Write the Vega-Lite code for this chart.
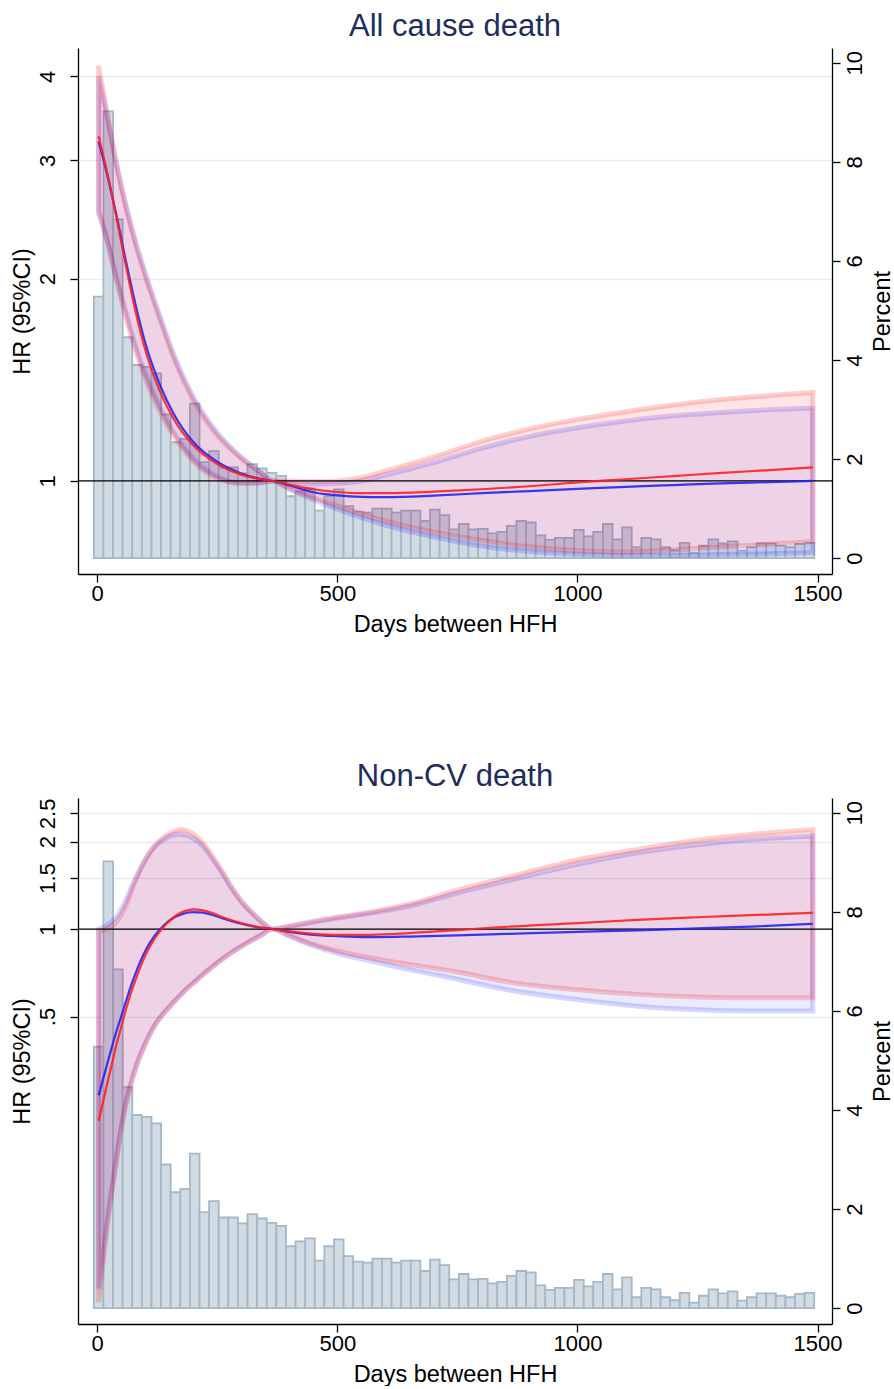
{
  "$schema": "https://vega.github.io/schema/vega-lite/v6.json",
  "background": "white",
  "padding": {"left": 10, "top": 11, "right": 0, "bottom": 0},
  "config": {
    "view": {"stroke": null},
    "font": "Liberation Sans",
    "axis": {
      "domainColor": "black", "domainWidth": 1.3,
      "tickColor": "black", "tickWidth": 1.3, "tickSize": 8,
      "labelFont": "Liberation Sans", "labelFontSize": 22, "labelColor": "black",
      "titleFont": "Liberation Sans", "titleFontSize": 23.5, "titleFontWeight": "normal", "titleColor": "black",
      "labelOverlap": false, "labelFlush": false
    }
  },
  "spacing": 125,
  "datasets": {
    "hist": [
      {"x0": -7, "x1": 13, "pct": 5.28}, {"x0": 13, "x1": 33, "pct": 9.02}, {"x0": 33, "x1": 53, "pct": 6.84},
      {"x0": 53, "x1": 73, "pct": 4.46}, {"x0": 73, "x1": 93, "pct": 3.90}, {"x0": 93, "x1": 113, "pct": 3.86},
      {"x0": 113, "x1": 133, "pct": 3.73}, {"x0": 133, "x1": 153, "pct": 2.90}, {"x0": 153, "x1": 173, "pct": 2.34},
      {"x0": 173, "x1": 193, "pct": 2.41}, {"x0": 193, "x1": 213, "pct": 3.12}, {"x0": 213, "x1": 233, "pct": 1.94},
      {"x0": 233, "x1": 253, "pct": 2.16}, {"x0": 253, "x1": 273, "pct": 1.83}, {"x0": 273, "x1": 293, "pct": 1.83},
      {"x0": 293, "x1": 313, "pct": 1.71}, {"x0": 313, "x1": 333, "pct": 1.90}, {"x0": 333, "x1": 353, "pct": 1.81},
      {"x0": 353, "x1": 373, "pct": 1.72}, {"x0": 373, "x1": 393, "pct": 1.66}, {"x0": 393, "x1": 413, "pct": 1.25},
      {"x0": 413, "x1": 433, "pct": 1.35}, {"x0": 433, "x1": 453, "pct": 1.41}, {"x0": 453, "x1": 473, "pct": 0.96},
      {"x0": 473, "x1": 493, "pct": 1.25}, {"x0": 493, "x1": 513, "pct": 1.39}, {"x0": 513, "x1": 533, "pct": 1.05},
      {"x0": 533, "x1": 553, "pct": 0.94}, {"x0": 553, "x1": 573, "pct": 0.92}, {"x0": 573, "x1": 593, "pct": 1.00},
      {"x0": 593, "x1": 613, "pct": 1.00}, {"x0": 613, "x1": 633, "pct": 0.92}, {"x0": 633, "x1": 653, "pct": 0.96},
      {"x0": 653, "x1": 673, "pct": 0.96}, {"x0": 673, "x1": 693, "pct": 0.75}, {"x0": 693, "x1": 713, "pct": 0.98},
      {"x0": 713, "x1": 733, "pct": 0.87}, {"x0": 733, "x1": 753, "pct": 0.58}, {"x0": 753, "x1": 773, "pct": 0.69},
      {"x0": 773, "x1": 793, "pct": 0.58}, {"x0": 793, "x1": 813, "pct": 0.59}, {"x0": 813, "x1": 833, "pct": 0.50},
      {"x0": 833, "x1": 853, "pct": 0.53}, {"x0": 853, "x1": 873, "pct": 0.65}, {"x0": 873, "x1": 893, "pct": 0.75},
      {"x0": 893, "x1": 913, "pct": 0.72}, {"x0": 913, "x1": 933, "pct": 0.46}, {"x0": 933, "x1": 953, "pct": 0.37},
      {"x0": 953, "x1": 973, "pct": 0.41}, {"x0": 973, "x1": 993, "pct": 0.41}, {"x0": 993, "x1": 1013, "pct": 0.57},
      {"x0": 1013, "x1": 1033, "pct": 0.44}, {"x0": 1033, "x1": 1053, "pct": 0.53}, {"x0": 1053, "x1": 1073, "pct": 0.69},
      {"x0": 1073, "x1": 1093, "pct": 0.38}, {"x0": 1093, "x1": 1113, "pct": 0.62}, {"x0": 1113, "x1": 1133, "pct": 0.22},
      {"x0": 1133, "x1": 1153, "pct": 0.41}, {"x0": 1153, "x1": 1173, "pct": 0.38}, {"x0": 1173, "x1": 1193, "pct": 0.22},
      {"x0": 1193, "x1": 1213, "pct": 0.16}, {"x0": 1213, "x1": 1233, "pct": 0.31}, {"x0": 1233, "x1": 1253, "pct": 0.11},
      {"x0": 1253, "x1": 1273, "pct": 0.25}, {"x0": 1273, "x1": 1293, "pct": 0.38}, {"x0": 1293, "x1": 1313, "pct": 0.30},
      {"x0": 1313, "x1": 1333, "pct": 0.34}, {"x0": 1333, "x1": 1353, "pct": 0.15}, {"x0": 1353, "x1": 1373, "pct": 0.22},
      {"x0": 1373, "x1": 1393, "pct": 0.30}, {"x0": 1393, "x1": 1413, "pct": 0.30}, {"x0": 1413, "x1": 1433, "pct": 0.25},
      {"x0": 1433, "x1": 1453, "pct": 0.22}, {"x0": 1453, "x1": 1473, "pct": 0.29}, {"x0": 1473, "x1": 1493, "pct": 0.31}
    ],
    "allcause": [
      {"model": "m2", "day": 3, "hr": 3.20, "lo": 2.50, "hi": 4.00},
      {"model": "m2", "day": 20, "hr": 2.872, "lo": 2.29, "hi": 3.50},
      {"model": "m2", "day": 40, "hr": 2.489, "lo": 2.01, "hi": 2.96},
      {"model": "m2", "day": 60, "hr": 2.121, "lo": 1.78, "hi": 2.57},
      {"model": "m2", "day": 80, "hr": 1.828, "lo": 1.59, "hi": 2.27},
      {"model": "m2", "day": 100, "hr": 1.606, "lo": 1.445, "hi": 2.04},
      {"model": "m2", "day": 130, "hr": 1.394, "lo": 1.29, "hi": 1.765},
      {"model": "m2", "day": 160, "hr": 1.256, "lo": 1.18, "hi": 1.54},
      {"model": "m2", "day": 200, "hr": 1.143, "lo": 1.08, "hi": 1.335},
      {"model": "m2", "day": 250, "hr": 1.068, "lo": 1.015, "hi": 1.18},
      {"model": "m2", "day": 300, "hr": 1.026, "lo": 0.993, "hi": 1.085},
      {"model": "m2", "day": 340, "hr": 1.007, "lo": 0.994, "hi": 1.03},
      {"model": "m2", "day": 365, "hr": 1.0, "lo": 1.0, "hi": 1.0},
      {"model": "m2", "day": 400, "hr": 0.985, "lo": 0.972, "hi": 0.995},
      {"model": "m2", "day": 450, "hr": 0.962, "lo": 0.938, "hi": 0.99},
      {"model": "m2", "day": 500, "hr": 0.952, "lo": 0.908, "hi": 0.992},
      {"model": "m2", "day": 550, "hr": 0.947, "lo": 0.882, "hi": 1.0},
      {"model": "m2", "day": 600, "hr": 0.946, "lo": 0.86, "hi": 1.02},
      {"model": "m2", "day": 700, "hr": 0.951, "lo": 0.826, "hi": 1.065},
      {"model": "m2", "day": 800, "hr": 0.959, "lo": 0.80, "hi": 1.118},
      {"model": "m2", "day": 900, "hr": 0.966, "lo": 0.785, "hi": 1.165},
      {"model": "m2", "day": 1000, "hr": 0.973, "lo": 0.778, "hi": 1.20},
      {"model": "m2", "day": 1100, "hr": 0.98, "lo": 0.775, "hi": 1.228},
      {"model": "m2", "day": 1200, "hr": 0.986, "lo": 0.775, "hi": 1.25},
      {"model": "m2", "day": 1300, "hr": 0.992, "lo": 0.777, "hi": 1.265},
      {"model": "m2", "day": 1400, "hr": 0.996, "lo": 0.779, "hi": 1.277},
      {"model": "m2", "day": 1490, "hr": 1.0, "lo": 0.782, "hi": 1.283},
      {"model": "m1", "day": 3, "hr": 3.26, "lo": 2.53, "hi": 4.15},
      {"model": "m1", "day": 20, "hr": 2.89, "lo": 2.29, "hi": 3.55},
      {"model": "m1", "day": 40, "hr": 2.47, "lo": 1.99, "hi": 2.96},
      {"model": "m1", "day": 60, "hr": 2.085, "lo": 1.75, "hi": 2.55},
      {"model": "m1", "day": 80, "hr": 1.786, "lo": 1.56, "hi": 2.25},
      {"model": "m1", "day": 100, "hr": 1.568, "lo": 1.42, "hi": 2.02},
      {"model": "m1", "day": 130, "hr": 1.363, "lo": 1.27, "hi": 1.745},
      {"model": "m1", "day": 160, "hr": 1.234, "lo": 1.165, "hi": 1.52},
      {"model": "m1", "day": 200, "hr": 1.130, "lo": 1.07, "hi": 1.32},
      {"model": "m1", "day": 250, "hr": 1.060, "lo": 1.008, "hi": 1.17},
      {"model": "m1", "day": 300, "hr": 1.022, "lo": 0.992, "hi": 1.08},
      {"model": "m1", "day": 340, "hr": 1.006, "lo": 0.994, "hi": 1.028},
      {"model": "m1", "day": 365, "hr": 1.0, "lo": 1.0, "hi": 1.0},
      {"model": "m1", "day": 400, "hr": 0.988, "lo": 0.975, "hi": 1.0},
      {"model": "m1", "day": 450, "hr": 0.972, "lo": 0.945, "hi": 0.998},
      {"model": "m1", "day": 500, "hr": 0.963, "lo": 0.918, "hi": 1.0},
      {"model": "m1", "day": 550, "hr": 0.959, "lo": 0.893, "hi": 1.012},
      {"model": "m1", "day": 600, "hr": 0.959, "lo": 0.872, "hi": 1.035},
      {"model": "m1", "day": 700, "hr": 0.964, "lo": 0.84, "hi": 1.085},
      {"model": "m1", "day": 800, "hr": 0.972, "lo": 0.816, "hi": 1.145},
      {"model": "m1", "day": 900, "hr": 0.982, "lo": 0.798, "hi": 1.195},
      {"model": "m1", "day": 1000, "hr": 0.995, "lo": 0.788, "hi": 1.235},
      {"model": "m1", "day": 1100, "hr": 1.006, "lo": 0.784, "hi": 1.268},
      {"model": "m1", "day": 1200, "hr": 1.017, "lo": 0.79, "hi": 1.297},
      {"model": "m1", "day": 1300, "hr": 1.028, "lo": 0.798, "hi": 1.322},
      {"model": "m1", "day": 1400, "hr": 1.038, "lo": 0.805, "hi": 1.34},
      {"model": "m1", "day": 1490, "hr": 1.048, "lo": 0.812, "hi": 1.354}
    ],
    "noncv": [
      {"model": "m2", "day": 3, "hr": 0.268, "lo": 0.058, "hi": 1.0},
      {"model": "m2", "day": 10, "hr": 0.295, "lo": 0.072, "hi": 1.01},
      {"model": "m2", "day": 20, "hr": 0.34, "lo": 0.098, "hi": 1.03},
      {"model": "m2", "day": 30, "hr": 0.39, "lo": 0.128, "hi": 1.06},
      {"model": "m2", "day": 40, "hr": 0.445, "lo": 0.165, "hi": 1.10},
      {"model": "m2", "day": 50, "hr": 0.50, "lo": 0.21, "hi": 1.17},
      {"model": "m2", "day": 60, "hr": 0.565, "lo": 0.255, "hi": 1.26},
      {"model": "m2", "day": 70, "hr": 0.635, "lo": 0.295, "hi": 1.38},
      {"model": "m2", "day": 80, "hr": 0.705, "lo": 0.335, "hi": 1.50},
      {"model": "m2", "day": 100, "hr": 0.84, "lo": 0.405, "hi": 1.73},
      {"model": "m2", "day": 120, "hr": 0.95, "lo": 0.468, "hi": 1.92},
      {"model": "m2", "day": 140, "hr": 1.035, "lo": 0.518, "hi": 2.04},
      {"model": "m2", "day": 160, "hr": 1.095, "lo": 0.563, "hi": 2.11},
      {"model": "m2", "day": 175, "hr": 1.123, "lo": 0.598, "hi": 2.12},
      {"model": "m2", "day": 190, "hr": 1.14, "lo": 0.633, "hi": 2.09},
      {"model": "m2", "day": 200, "hr": 1.143, "lo": 0.653, "hi": 2.05},
      {"model": "m2", "day": 220, "hr": 1.138, "lo": 0.698, "hi": 1.93},
      {"model": "m2", "day": 240, "hr": 1.118, "lo": 0.743, "hi": 1.74},
      {"model": "m2", "day": 260, "hr": 1.09, "lo": 0.788, "hi": 1.56},
      {"model": "m2", "day": 280, "hr": 1.065, "lo": 0.832, "hi": 1.38},
      {"model": "m2", "day": 300, "hr": 1.043, "lo": 0.872, "hi": 1.24},
      {"model": "m2", "day": 320, "hr": 1.025, "lo": 0.912, "hi": 1.145},
      {"model": "m2", "day": 340, "hr": 1.011, "lo": 0.951, "hi": 1.065},
      {"model": "m2", "day": 365, "hr": 1.0, "lo": 1.0, "hi": 1.0},
      {"model": "m2", "day": 400, "hr": 0.978, "lo": 0.945, "hi": 1.02},
      {"model": "m2", "day": 450, "hr": 0.955, "lo": 0.875, "hi": 1.055},
      {"model": "m2", "day": 500, "hr": 0.945, "lo": 0.825, "hi": 1.09},
      {"model": "m2", "day": 570, "hr": 0.938, "lo": 0.776, "hi": 1.135},
      {"model": "m2", "day": 650, "hr": 0.942, "lo": 0.725, "hi": 1.20},
      {"model": "m2", "day": 750, "hr": 0.951, "lo": 0.672, "hi": 1.33},
      {"model": "m2", "day": 850, "hr": 0.962, "lo": 0.62, "hi": 1.46},
      {"model": "m2", "day": 1000, "hr": 0.978, "lo": 0.572, "hi": 1.67},
      {"model": "m2", "day": 1125, "hr": 0.99, "lo": 0.543, "hi": 1.83},
      {"model": "m2", "day": 1250, "hr": 1.005, "lo": 0.528, "hi": 1.95},
      {"model": "m2", "day": 1375, "hr": 1.022, "lo": 0.522, "hi": 2.04},
      {"model": "m2", "day": 1490, "hr": 1.042, "lo": 0.522, "hi": 2.09},
      {"model": "m1", "day": 3, "hr": 0.219, "lo": 0.052, "hi": 0.985},
      {"model": "m1", "day": 10, "hr": 0.245, "lo": 0.066, "hi": 0.99},
      {"model": "m1", "day": 20, "hr": 0.29, "lo": 0.092, "hi": 1.0},
      {"model": "m1", "day": 30, "hr": 0.34, "lo": 0.122, "hi": 1.02},
      {"model": "m1", "day": 40, "hr": 0.40, "lo": 0.158, "hi": 1.06},
      {"model": "m1", "day": 50, "hr": 0.46, "lo": 0.205, "hi": 1.12},
      {"model": "m1", "day": 60, "hr": 0.53, "lo": 0.25, "hi": 1.21},
      {"model": "m1", "day": 70, "hr": 0.60, "lo": 0.29, "hi": 1.33},
      {"model": "m1", "day": 80, "hr": 0.67, "lo": 0.33, "hi": 1.47},
      {"model": "m1", "day": 100, "hr": 0.81, "lo": 0.40, "hi": 1.73},
      {"model": "m1", "day": 120, "hr": 0.93, "lo": 0.465, "hi": 1.94},
      {"model": "m1", "day": 140, "hr": 1.025, "lo": 0.515, "hi": 2.08},
      {"model": "m1", "day": 160, "hr": 1.10, "lo": 0.56, "hi": 2.17},
      {"model": "m1", "day": 175, "hr": 1.14, "lo": 0.595, "hi": 2.20},
      {"model": "m1", "day": 190, "hr": 1.162, "lo": 0.63, "hi": 2.17},
      {"model": "m1", "day": 200, "hr": 1.168, "lo": 0.65, "hi": 2.12},
      {"model": "m1", "day": 220, "hr": 1.16, "lo": 0.695, "hi": 1.98},
      {"model": "m1", "day": 240, "hr": 1.135, "lo": 0.74, "hi": 1.78},
      {"model": "m1", "day": 260, "hr": 1.10, "lo": 0.785, "hi": 1.58},
      {"model": "m1", "day": 280, "hr": 1.072, "lo": 0.83, "hi": 1.39},
      {"model": "m1", "day": 300, "hr": 1.048, "lo": 0.87, "hi": 1.25},
      {"model": "m1", "day": 320, "hr": 1.028, "lo": 0.91, "hi": 1.15},
      {"model": "m1", "day": 340, "hr": 1.012, "lo": 0.95, "hi": 1.07},
      {"model": "m1", "day": 365, "hr": 1.0, "lo": 1.0, "hi": 1.0},
      {"model": "m1", "day": 400, "hr": 0.982, "lo": 0.95, "hi": 1.025},
      {"model": "m1", "day": 450, "hr": 0.963, "lo": 0.885, "hi": 1.065},
      {"model": "m1", "day": 500, "hr": 0.955, "lo": 0.84, "hi": 1.10},
      {"model": "m1", "day": 570, "hr": 0.955, "lo": 0.795, "hi": 1.145},
      {"model": "m1", "day": 650, "hr": 0.968, "lo": 0.755, "hi": 1.22},
      {"model": "m1", "day": 750, "hr": 0.992, "lo": 0.712, "hi": 1.36},
      {"model": "m1", "day": 850, "hr": 1.018, "lo": 0.66, "hi": 1.50},
      {"model": "m1", "day": 1000, "hr": 1.048, "lo": 0.618, "hi": 1.73},
      {"model": "m1", "day": 1125, "hr": 1.076, "lo": 0.596, "hi": 1.878},
      {"model": "m1", "day": 1250, "hr": 1.098, "lo": 0.584, "hi": 2.02},
      {"model": "m1", "day": 1375, "hr": 1.118, "lo": 0.58, "hi": 2.125},
      {"model": "m1", "day": 1490, "hr": 1.137, "lo": 0.58, "hi": 2.20}
    ]
  },
  "vconcat": [
    {
      "title": {"text": "All cause death", "font": "Liberation Sans", "fontSize": 31, "fontWeight": "normal", "color": "#1e2d5c", "anchor": "middle", "frame": "group", "offset": 5},
      "width": 754,
      "height": 526,
      "layer": [
        {
          "data": {"name": "hist"},
          "mark": {"type": "rect", "fill": "#d1dbe4", "stroke": "#a6b7c6", "strokeWidth": 1.8},
          "encoding": {
            "x": {"field": "x0", "type": "quantitative", "title": "Days between HFH",
                  "scale": {"domain": [-40, 1530], "nice": false, "zero": false},
                  "axis": {"values": [0, 500, 1000, 1500], "format": "d", "grid": false, "labelAngle": 0, "labelPadding": 1, "titlePadding": 8}},
            "x2": {"field": "x1"},
            "y": {"field": "pct", "type": "quantitative", "title": "Percent",
                  "scale": {"domain": [-0.32, 10.3], "nice": false, "zero": false},
                  "axis": {"orient": "right", "values": [0, 2, 4, 6, 8, 10], "grid": false, "labelAngle": -90, "labelAlign": "center", "labelBaseline": "top", "labelPadding": 4, "titleAngle": -90, "titleBaseline": "top", "titlePadding": 5}},
            "y2": {"datum": 0}
          }
        },
        {
          "data": {"name": "allcause"},
          "layer": [
            {
              "mark": {"type": "area", "interpolate": "monotone", "strokeWidth": 5},
              "encoding": {
                "x": {"field": "day", "type": "quantitative", "title": "Days between HFH",
                      "scale": {"domain": [-40, 1530], "nice": false, "zero": false},
                      "axis": {"values": [0, 500, 1000, 1500], "format": "d", "grid": false, "labelAngle": 0, "labelPadding": 1, "titlePadding": 8}},
                "y": {"field": "lo", "type": "quantitative", "title": "HR (95%CI)",
                      "scale": {"type": "log", "domain": [0.727, 4.41], "nice": false},
                      "axis": {"orient": "left", "values": [1, 2, 3, 4], "grid": true, "gridColor": "#e6eef1", "gridWidth": 1.6, "labelAngle": -90, "labelAlign": "center", "labelBaseline": "bottom", "labelPadding": 11, "titlePadding": 2, "labelExpr": "format(datum.value, '~g')"}},
                "y2": {"field": "hi"},
                "fill": {"field": "model", "type": "nominal", "scale": {"domain": ["m1", "m2"], "range": ["#ff0000", "#0000ff"]}, "legend": null},
                "stroke": {"field": "model", "type": "nominal", "scale": {"domain": ["m1", "m2"], "range": ["#ff0000", "#0000ff"]}, "legend": null},
                "fillOpacity": {"field": "model", "type": "nominal", "scale": {"domain": ["m1", "m2"], "range": [0.1, 0.08]}, "legend": null},
                "strokeOpacity": {"field": "model", "type": "nominal", "scale": {"domain": ["m1", "m2"], "range": [0.19, 0.16]}, "legend": null}
              }
            },
            {
              "data": {"values": [{}]},
              "mark": {"type": "rule", "color": "black", "strokeWidth": 1.3},
              "encoding": {"y": {"datum": 1}}
            },
            {
              "mark": {"type": "line", "interpolate": "monotone", "strokeWidth": 2.2, "opacity": 0.9},
              "encoding": {
                "x": {"field": "day", "type": "quantitative", "title": "Days between HFH"},
                "y": {"field": "hr", "type": "quantitative", "title": "HR (95%CI)"},
                "color": {"field": "model", "type": "nominal", "scale": {"domain": ["m1", "m2"], "range": ["#ff1f1f", "#2424f0"]}, "legend": null}
              }
            }
          ]
        }
      ],
      "resolve": {"scale": {"y": "independent"}}
    },
    {
      "title": {"text": "Non-CV death", "font": "Liberation Sans", "fontSize": 31, "fontWeight": "normal", "color": "#1e2d5c", "anchor": "middle", "frame": "group", "offset": 5},
      "width": 754,
      "height": 526,
      "layer": [
        {
          "data": {"name": "hist"},
          "mark": {"type": "rect", "fill": "#d1dbe4", "stroke": "#a6b7c6", "strokeWidth": 1.8},
          "encoding": {
            "x": {"field": "x0", "type": "quantitative", "title": "Days between HFH",
                  "scale": {"domain": [-40, 1530], "nice": false, "zero": false},
                  "axis": {"values": [0, 500, 1000, 1500], "format": "d", "grid": false, "labelAngle": 0, "labelPadding": 1, "titlePadding": 8}},
            "x2": {"field": "x1"},
            "y": {"field": "pct", "type": "quantitative", "title": "Percent",
                  "scale": {"domain": [-0.32, 10.3], "nice": false, "zero": false},
                  "axis": {"orient": "right", "values": [0, 2, 4, 6, 8, 10], "grid": false, "labelAngle": -90, "labelAlign": "center", "labelBaseline": "top", "labelPadding": 4, "titleAngle": -90, "titleBaseline": "top", "titlePadding": 5}},
            "y2": {"datum": 0}
          }
        },
        {
          "data": {"name": "noncv"},
          "layer": [
            {
              "mark": {"type": "area", "interpolate": "monotone", "strokeWidth": 5},
              "encoding": {
                "x": {"field": "day", "type": "quantitative", "title": "Days between HFH",
                      "scale": {"domain": [-40, 1530], "nice": false, "zero": false},
                      "axis": {"values": [0, 500, 1000, 1500], "format": "d", "grid": false, "labelAngle": 0, "labelPadding": 1, "titlePadding": 8}},
                "y": {"field": "lo", "type": "quantitative", "title": "HR (95%CI)",
                      "scale": {"type": "log", "domain": [0.0438, 2.823], "nice": false},
                      "axis": {"orient": "left", "values": [0.5, 1, 1.5, 2, 2.5], "grid": true, "gridColor": "#e6eef1", "gridWidth": 1.6, "labelAngle": -90, "labelAlign": "center", "labelBaseline": "bottom", "labelPadding": 11, "titlePadding": 2, "labelExpr": "datum.value == 0.5 ? '.5' : format(datum.value, '~g')"}},
                "y2": {"field": "hi"},
                "fill": {"field": "model", "type": "nominal", "scale": {"domain": ["m1", "m2"], "range": ["#ff0000", "#0000ff"]}, "legend": null},
                "stroke": {"field": "model", "type": "nominal", "scale": {"domain": ["m1", "m2"], "range": ["#ff0000", "#0000ff"]}, "legend": null},
                "fillOpacity": {"field": "model", "type": "nominal", "scale": {"domain": ["m1", "m2"], "range": [0.1, 0.08]}, "legend": null},
                "strokeOpacity": {"field": "model", "type": "nominal", "scale": {"domain": ["m1", "m2"], "range": [0.19, 0.16]}, "legend": null}
              }
            },
            {
              "data": {"values": [{}]},
              "mark": {"type": "rule", "color": "black", "strokeWidth": 1.3},
              "encoding": {"y": {"datum": 1}}
            },
            {
              "mark": {"type": "line", "interpolate": "monotone", "strokeWidth": 2.2, "opacity": 0.9},
              "encoding": {
                "x": {"field": "day", "type": "quantitative", "title": "Days between HFH"},
                "y": {"field": "hr", "type": "quantitative", "title": "HR (95%CI)"},
                "color": {"field": "model", "type": "nominal", "scale": {"domain": ["m1", "m2"], "range": ["#ff1f1f", "#2424f0"]}, "legend": null}
              }
            }
          ]
        }
      ],
      "resolve": {"scale": {"y": "independent"}}
    }
  ]
}
